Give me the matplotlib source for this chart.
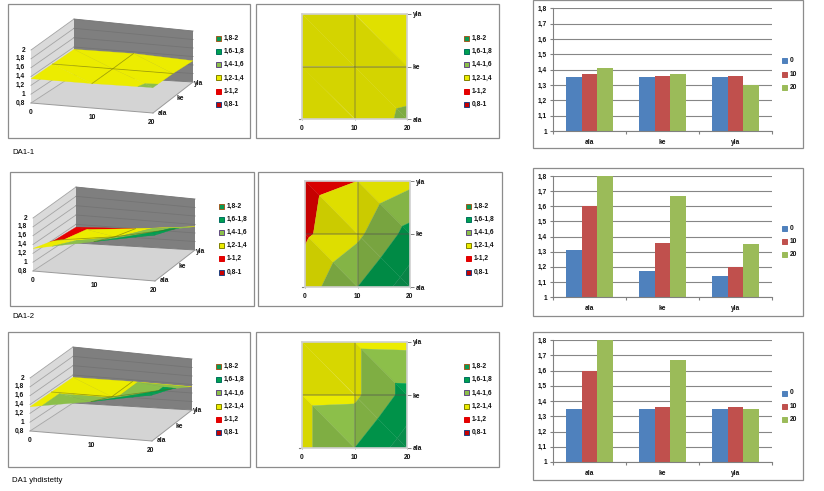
#!/usr/bin/env python

import matplotlib
matplotlib.use('Agg')
import matplotlib.pyplot as plt
from matplotlib.patches import Rectangle, Polygon

W = 824
H = 491

sizes = [0, 10, 20]
categories = ['ala', 'ke', 'yla']

# rows follow categories, columns follow sizes
# ala/20 of the last two runs past the bar axis, 1.9 is read from the contour
da1_1 = [[1.35, 1.37, 1.41],
         [1.35, 1.36, 1.37],
         [1.35, 1.36, 1.30]]
da1_2 = [[1.31, 1.60, 1.90],
         [1.17, 1.36, 1.67],
         [1.14, 1.20, 1.35]]
da1_yhd = [[1.35, 1.60, 1.90],
           [1.35, 1.36, 1.67],
           [1.35, 1.36, 1.35]]

titles = ['DA1-1', 'DA1-2', 'DA1 yhdistetty']
levels = [0.8, 1.0, 1.2, 1.4, 1.6, 1.8, 2.0]
level_labels = ['1,8-2', '1,6-1,8', '1,4-1,6', '1,2-1,4', '1-1,2', '0,8-1']
z_labels = ['0,8', '1', '1,2', '1,4', '1,6', '1,8', '2']
bar_ticks = [1.0, 1.1, 1.2, 1.3, 1.4, 1.5, 1.6, 1.7, 1.8]
bar_tick_labels = ['1', '1,1', '1,2', '1,3', '1,4', '1,5', '1,6', '1,7', '1,8']

band_colors = ['#C80000', '#E60000', '#ECEC00', '#8CBF4A', '#00A050', '#0A9A52']
swatch_edges = ['#A05A20', '#007060', '#604A80', '#808000', '#E00000', '#204080']
bar_colors = ['#4F81BD', '#C0504D', '#9BBB59']
FRAME = '#8C8C8C'
TXT = '#101010'
FS = 4.8
FONT = 'Liberation Sans'


def px_axes(x0, y0, x1, y1):
    return fig.add_axes([x0 / W, 1 - y1 / H, (x1 - x0) / W, (y1 - y0) / H], facecolor='none')


def clip(poly, level, keep_above):
    out = []
    for i in range(len(poly)):
        a = poly[i]
        b = poly[(i + 1) % len(poly)]
        a_in = a[2] >= level if keep_above else a[2] <= level
        b_in = b[2] >= level if keep_above else b[2] <= level
        if a_in:
            out.append(a)
        if a_in != b_in:
            t = (level - a[2]) / (b[2] - a[2])
            out.append(tuple(a[k] + t * (b[k] - a[k]) for k in range(3)))
    return out


def shade(color, factor):
    r, g, b = matplotlib.colors.to_rgb(color)
    return (r * factor, g * factor, b * factor)


def surface_pieces(z, dark, bright):
    # split every facet into level bands, back row first
    pieces = []
    for j in [1, 0]:
        for i in [0, 1]:
            p00 = (sizes[i], j, z[j][i])
            p10 = (sizes[i + 1], j, z[j][i + 1])
            p01 = (sizes[i], j + 1, z[j + 1][i])
            p11 = (sizes[i + 1], j + 1, z[j + 1][i + 1])
            facets = [[p10, p11, p01], [p00, p10, p01]]
            slopes = [(p11[2] - p01[2]) + (p11[2] - p10[2]),
                      (p10[2] - p00[2]) + (p01[2] - p00[2])]
            for facet, slope in zip(facets, slopes):
                factor = bright if slope < -0.045 else dark
                for k in range(len(band_colors)):
                    poly = clip(clip(facet, levels[k], True), levels[k + 1], False)
                    if len(poly) > 2:
                        pieces.append((poly, shade(band_colors[k], factor)))
    return pieces


def legend(x, y, labels, fills, edges, pitch):
    for n, lab in enumerate(labels):
        cy = y + n * pitch
        canvas.add_patch(Rectangle((x - 2.5, cy - 2.5), 5, 5, fc=fills[n], ec=edges[n], lw=0.7))
        canvas.text(x + 5, cy, lab, fontsize=FS, color=TXT, va='center', ha='left', weight='bold', family=FONT)


def draw_3d(z, ox, oy):
    corners = [(31 + ox, 103 + oy), (153 + ox, 113 + oy), (74 + ox, 75 + oy), (193 + ox, 82 + oy)]
    heights = [53, 50, 56, 51]

    def project(x, y, zv):
        u = x / sizes[-1]
        v = y / (len(categories) - 1)
        w = [(1 - u) * (1 - v), u * (1 - v), (1 - u) * v, u * v]
        px = sum(w[k] * corners[k][0] for k in range(4))
        py = sum(w[k] * corners[k][1] for k in range(4))
        h = sum(w[k] * heights[k] for k in range(4))
        return px, py - h * (zv - levels[0]) / (levels[-1] - levels[0])

    x_end = sizes[-1]
    y_end = len(categories) - 1
    lo = levels[0]
    hi = levels[-1]
    walls = [([(0, 0, lo), (0, y_end, lo), (0, y_end, hi), (0, 0, hi)], '#DADADA'),
             ([(0, y_end, lo), (x_end, y_end, lo), (x_end, y_end, hi), (0, y_end, hi)], '#7F7F7F'),
             ([(0, 0, lo), (x_end, 0, lo), (x_end, y_end, lo), (0, y_end, lo)], '#D4D4D4')]
    for pts, col in walls:
        canvas.add_patch(Polygon([project(*p) for p in pts], fc=col, ec='none', zorder=1))

    for n, lev in enumerate(levels):
        a = project(0, 0, lev)
        b = project(0, y_end, lev)
        c = project(x_end, y_end, lev)
        canvas.plot([a[0], b[0]], [a[1], b[1]], color='#A4A4A4', lw=0.6, zorder=2)
        canvas.plot([b[0], c[0]], [b[1], c[1]], color='#747474', lw=0.6, zorder=2)
        canvas.text(a[0] - 6, a[1], z_labels[n], fontsize=FS, color=TXT, va='center', ha='right', weight='bold', family=FONT)

    a = project(0, 0, lo)
    b = project(x_end, 0, lo)
    canvas.plot([a[0], b[0]], [a[1], b[1]], color='#9A9A9A', lw=0.7, zorder=2)
    b2 = project(x_end, y_end, lo)
    canvas.plot([b[0], b2[0]], [b[1], b2[1]], color='#9A9A9A', lw=0.7, zorder=2)

    for poly, col in surface_pieces(z, 1.0, 1.0):
        canvas.add_patch(Polygon([project(*p) for p in poly], fc=col, ec=col, lw=0.2, zorder=3))

    # grid lines lying on the surface
    mid_x = len(sizes) // 2
    mid_y = len(categories) // 2
    line = [project(sizes[mid_x], j, z[j][mid_x]) for j in range(3)]
    canvas.plot(*zip(*line), color='#5A5A00', lw=0.6, alpha=0.45, zorder=4)
    line = [project(sizes[i], mid_y, z[mid_y][i]) for i in range(3)]
    canvas.plot(*zip(*line), color='#5A5A00', lw=0.6, alpha=0.45, zorder=4)

    for s in sizes:
        p = project(s, 0, lo)
        canvas.text(p[0] - 1 if s == x_end else p[0], p[1] + 9.5, str(s), fontsize=FS, color=TXT, va='center', ha='center', weight='bold', family=FONT)
    for j, cat in enumerate(categories):
        p = project(x_end, j, lo)
        canvas.text(p[0] + 9 - j * 1.5, p[1] + j * 0.5, cat, fontsize=FS, color=TXT, va='center', ha='center', weight='bold', family=FONT)


def draw_contour(z, box, dark, bright):
    ax = px_axes(*box)
    for poly, col in surface_pieces(z, dark, bright):
        ax.fill([p[0] for p in poly], [p[1] for p in poly], color=col, lw=0.2)
    ax.set_xlim(sizes[0], sizes[-1])
    ax.set_ylim(0, len(categories) - 1)
    ax.axvline(sizes[1], color='#505050', lw=1.1, alpha=0.35)
    ax.axhline(1, color='#505050', lw=1.1, alpha=0.45)
    for side in ax.spines.values():
        side.set_color('#D0D0D0')
        side.set_linewidth(1.2)
    ax.set_xticks(sizes)
    ax.set_xticklabels([str(s) for s in sizes], fontsize=FS, color=TXT, weight='bold', family=FONT)
    ax.yaxis.tick_right()
    ax.set_yticks(range(len(categories)))
    ax.set_yticklabels(categories, fontsize=FS, color=TXT, weight='bold', family=FONT)
    ax.tick_params(axis='y', length=3, width=0.7, color='#808080', pad=1)
    ax.tick_params(axis='x', length=1, width=0.5, color='#808080', pad=3.5)
    canvas.plot([box[0] - 3, box[0]], [box[3], box[3]], color='#808080', lw=0.8)


def draw_bars(z, box):
    ax = px_axes(*box)
    ax.set_axisbelow(True)
    ax.yaxis.grid(True, color='#868686', lw=0.8)
    for s in range(len(sizes)):
        xs = [c + (s - 1) * 0.219 for c in range(len(categories))]
        ax.bar(xs, [row[s] - bar_ticks[0] for row in z], 0.219, bottom=bar_ticks[0], color=bar_colors[s])
    ax.set_xlim(-0.5, 2.5)
    ax.set_ylim(bar_ticks[0], bar_ticks[-1])
    ax.set_yticks(bar_ticks)
    ax.set_yticklabels(bar_tick_labels, fontsize=FS, color=TXT, weight='bold', family=FONT)
    ax.set_xticks(range(len(categories)))
    ax.set_xticklabels(categories, fontsize=FS, color=TXT, weight='bold', family=FONT)
    ax.set_xticks([-0.5, 0.5, 1.5, 2.5], minor=True)
    ax.tick_params(axis='x', which='major', length=0, pad=6)
    ax.tick_params(axis='x', which='minor', length=2.5, width=0.8, color='#808080')
    ax.tick_params(axis='y', length=2.5, width=0.8, color='#808080', pad=2)
    ax.spines['top'].set_visible(False)
    ax.spines['right'].set_visible(False)
    ax.spines['left'].set_color('#808080')
    ax.spines['bottom'].set_color('#808080')


fig = plt.figure(figsize=(W / 100, H / 100), dpi=100, facecolor='white')
canvas = fig.add_axes([0, 0, 1, 1], facecolor='none')
canvas.set_xlim(0, W)
canvas.set_ylim(H, 0)
canvas.axis('off')

frames = [(8, 4, 250, 138), (256, 4, 499, 138), (533, 0, 803, 148),
          (10, 172, 254, 306), (258, 172, 502, 306), (533, 168, 803, 316),
          (8, 332, 250, 467), (256, 332, 499, 467), (533, 332, 803, 480)]
for x0, y0, x1, y1 in frames:
    canvas.add_patch(Rectangle((x0, y0), x1 - x0, y1 - y0, fc='white', ec=FRAME, lw=0.9, zorder=0))

series = [da1_1, da1_2, da1_yhd]
offsets_3d = [(0, 0), (2, 168), (-1, 328)]
contour_boxes = [(302, 14, 407, 119), (305, 181, 410, 287), (302, 342, 407, 448)]
contour_shades = [(0.90, 0.95), (0.86, 0.94), (0.91, 1.0)]
bar_boxes = [(553, 8.3, 772, 131), (553, 176, 772, 297), (553, 340, 772, 462)]
legend_3d = [(219, 38.3), (222, 206), (219, 366.5)]
legend_contour = [(467, 38.3), (469, 206), (467, 366.5)]
legend_bar = [(785, 60.7), (785, 228), (785, 393)]
title_pos = [(12, 153), (12, 316), (12, 481)]

for n in range(3):
    draw_3d(series[n], *offsets_3d[n])
    draw_contour(series[n], contour_boxes[n], *contour_shades[n])
    draw_bars(series[n], bar_boxes[n])
    fills = band_colors[::-1]
    legend(*legend_3d[n], level_labels, fills, swatch_edges, 13.2)
    legend(*legend_contour[n], level_labels, fills, swatch_edges, 13.2)
    legend(*legend_bar[n], [str(s) for s in sizes], bar_colors, bar_colors, 13.3)
    canvas.text(*title_pos[n], titles[n], fontsize=5.6, family=FONT, color='black', va='center', ha='left')

fig.savefig('out.png', dpi=100)
